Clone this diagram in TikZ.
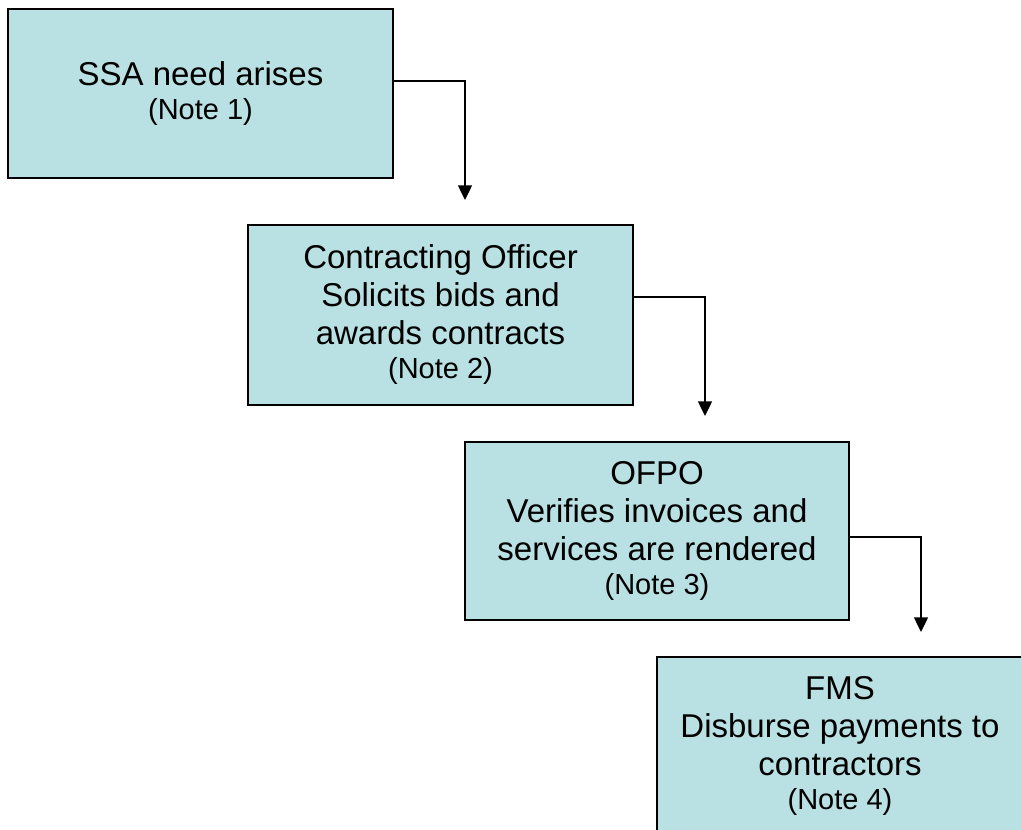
\documentclass[tikz,border=0pt]{standalone}
\usepackage{fontspec}
\setmainfont{Liberation Sans}
\usepackage{tikz}
\usetikzlibrary{arrows.meta}
\definecolor{boxblue}{RGB}{185,224,226}
\tikzset{task/.style={rectangle,draw=black,fill=boxblue,line width=0.9pt,align=center,inner sep=0pt,minimum width=288.75pt,minimum height=126.75pt,font=\fontsize{24.75}{28.5}\selectfont}}
\tikzset{flow/.style={line width=1pt,-{Triangle[width=10.5pt,length=11pt]}}}
\newcommand{\notetext}[1]{{\fontsize{21.75}{25}\selectfont #1}}

\begin{document}
\begin{tikzpicture}[x=0.75pt,y=-0.75pt]
\useasboundingbox (0,0) rectangle (1021,829);
% the four steps
\node[task] (B1) at (200.5,93.5) {SSA need arises\\[-3pt]\notetext{(Note 1)}};
\node[task,minimum height=135pt] (B2) at (440.5,315) {Contracting Officer\\Solicits bids and\\awards contracts\\[-3pt]\notetext{(Note 2)}};
\node[task,minimum width=288pt,minimum height=133.5pt] (B3) at (657,531) {OFPO\\Verifies invoices and\\services are rendered\\[-3pt]\notetext{(Note 3)}};
\node[task,minimum width=274.5pt,minimum height=133.5pt] (B4) at (840,746) {FMS\\Disburse payments to\\contractors\\[-3pt]\notetext{(Note 4)}};
% arrow tips
\coordinate (T1) at (465,200);
\coordinate (T2) at (705,416);
\coordinate (T3) at (921,632);
\foreach \i/\s in {1/9.4pt,2/13.5pt,3/-4.5pt} {
	\draw[flow] ([yshift=\s]B\i.east) -| (T\i);
}
\end{tikzpicture}
\end{document}
